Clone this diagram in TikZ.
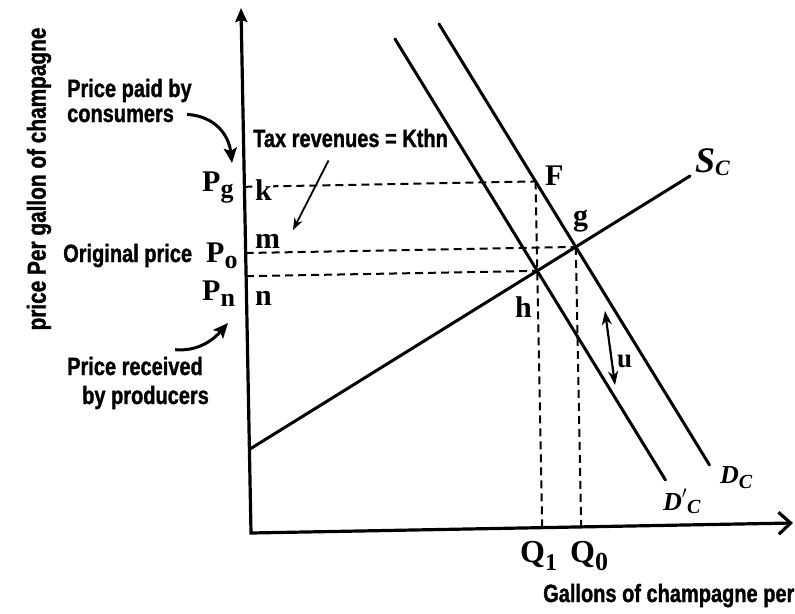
\documentclass[tikz,border=0pt]{standalone}
\usepackage{fontspec}
\setmainfont{Liberation Serif}
\newfontfamily\condfont{Liberation Sans}[FakeStretch=0.8, BoldFeatures={FakeBold=1.2}]
\usetikzlibrary{arrows.meta,calc}
\newcommand{\lowsub}[3]{\raisebox{#1}{\fontsize{#2}{#2}\selectfont #3}}
\begin{document}
\begin{tikzpicture}[x=1pt,y=-1pt,
  lab/.style={font=\condfont\bfseries\fontsize{25}{25}\selectfont, inner sep=0pt, anchor=base west},
  sletter/.style={font=\bfseries\fontsize{30}{30}\selectfont, inner sep=0pt, anchor=base west},
  iletter/.style={font=\bfseries\itshape\fontsize{26}{26}\selectfont, inner sep=0pt, anchor=base west},
  curveline/.style={line width=3pt, line cap=round},
  axisline/.style={line width=3.2pt},
  guide/.style={line width=2pt, dash pattern=on 8pt off 5pt},
  bent/.style={line width=3pt, -{Stealth[length=15pt,width=13pt,inset=3pt]}},
]
\useasboundingbox (0,0) rectangle (795,613);
\fill[white] (0,0) rectangle (795,613);

% geometry
\coordinate (O) at (251,533);
\coordinate (Ytop) at (241,8);
\coordinate (Xend) at (793,523);
\coordinate (DCa) at (439,24);  \coordinate (DCb) at (709.5,465);
\coordinate (DPa) at (395,39);  \coordinate (DPb) at (665.5,480);
\coordinate (Sa) at (250,449);  \coordinate (Sb) at (690,176);
\coordinate (h) at (intersection of DPa--DPb and Sa--Sb);
\coordinate (g) at (intersection of DCa--DCb and Sa--Sb);
\coordinate (hup) at ($(h)+(-10,-525)$);
\coordinate (gup) at ($(g)+(-10,-525)$);
\coordinate (F) at (intersection of h--hup and DCa--DCb);
\coordinate (Q1b) at (intersection of h--hup and O--Xend);
\coordinate (Q0b) at (intersection of g--gup and O--Xend);
\coordinate (Fl) at ($(F)+(-542,10)$);
\coordinate (gl) at ($(g)+(-542,10)$);
\coordinate (hl) at ($(h)+(-542,10)$);
\coordinate (PgA) at (intersection of F--Fl and O--Ytop);
\coordinate (PoA) at (intersection of g--gl and O--Ytop);
\coordinate (PnA) at (intersection of h--hl and O--Ytop);

% dashed guides
\draw[guide] (PgA) -- (F);
\draw[guide] (PoA) -- (g);
\draw[guide] (PnA) -- (h);
\draw[guide] (F) -- (Q1b);
\draw[guide] (g) -- (Q0b);

% curves
\draw[curveline] (DCa) -- (DCb);
\draw[curveline] (DPa) -- (DPb);
\draw[curveline] (Sa) -- (Sb);

% axes
\draw[axisline, {Stealth[length=14pt,width=12pt,inset=2pt]}-{Straight Barb[length=12pt,width=22pt]}] (Ytop) -- (O) -- (Xend);

% sans labels
\node[lab, font=\condfont\bfseries\fontsize{26}{26}\selectfont, rotate=90, anchor=center] (ylab) at (39,179) {price Per gallon of champagne};
\node[lab] (paid) at (67,97) {Price paid by};
\node[lab] (cons) at (67,122) {consumers};
\node[lab] (orig) at (63,262) {Original price};
\node[lab] (recv) at (67,375) {Price received};
\node[lab] (prod) at (82,404) {by producers};
\node[lab] (tax) at (253,147) {Tax revenues = Kthn};
\node[lab] (gal) at (543,602) {Gallons of champagne per};

% serif letters
\node[sletter] (Pg) at (202,191) {P\lowsub{-6pt}{26}{g}};
\node[sletter] (Po) at (206,262) {P\lowsub{-6pt}{26}{o}};
\node[sletter] (Pn) at (202,300) {P\lowsub{-6pt}{26}{n}};
\node[sletter, fill=white, inner sep=1pt] (k) at (254,200) {k};
\node[sletter] (m) at (255,248) {m};
\node[sletter] (n) at (255,305) {n};
\node[sletter] (Flab) at (545,185) {F};
\node[sletter] (glab) at (573,225) {g};
\node[sletter] (hlab) at (515,317) {h};
\node[sletter, font=\bfseries\fontsize{27}{27}\selectfont] (ulab) at (617,367) {u};
\node[sletter, font=\bfseries\fontsize{32}{32}\selectfont] (Q1) at (520,562) {Q\lowsub{-8pt}{24}{1}};
\node[sletter, font=\bfseries\fontsize{32}{32}\selectfont] (Q0) at (570,562) {Q\lowsub{-8pt}{26}{0}};

% italic curve labels
\node[iletter] (DClab) at (720,483) {D\lowsub{-5pt}{20}{C}};
\node[iletter] (DPlab) at (663,510) {D\raisebox{2pt}{$'$}\lowsub{-3pt}{20}{C}};
\node[iletter, font=\bfseries\itshape\fontsize{36}{36}\selectfont] (SClab) at (695,172) {S\lowsub{-3pt}{22}{C}};

% arrows
\coordinate (tailC) at ($(cons.east)+(13,-1)$);
\coordinate (tipC) at (232,163);
\draw[bent] (tailC) .. controls ($(tailC)+(30,2)$) and ($(tipC)+(-3,-26)$) .. (tipC);

\coordinate (tailR) at ($(recv.north east)+(-28,-7)$);
\coordinate (tipR) at (228,323);
\draw[bent] (tailR) .. controls ($(tailR)+(24,2)$) and ($(tipR)+(-14,16)$) .. (tipR);

\coordinate (tailT) at ($(tax.south)+(-22,13)$);
\coordinate (tipT) at (293,230);
\draw[line width=1.8pt, -{Stealth[length=12pt,width=9pt]}] (tailT) -- (tipT);

\coordinate (uTop) at (605,311);
\coordinate (uBot) at (615,385);
\draw[line width=2.2pt, {Stealth[length=14pt,width=10pt]}-{Stealth[length=14pt,width=10pt]}] (uTop) -- (uBot);
\end{tikzpicture}
\end{document}
